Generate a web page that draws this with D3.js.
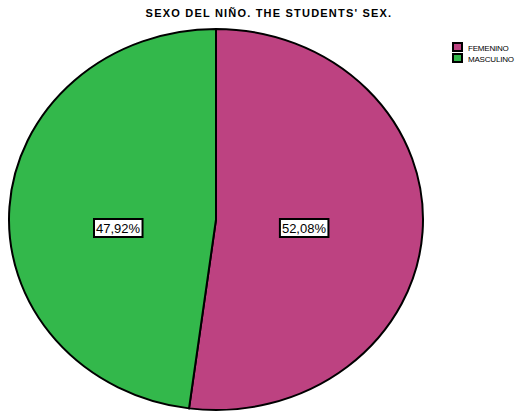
<!DOCTYPE html>
<html>
<head>
<meta charset="utf-8">
<script src="https://cdn.jsdelivr.net/npm/d3@7"></script>
<style>
  body { margin: 0; background: #fff; }
  svg { display: block; }
</style>
</head>
<body>
<div id="chart"></div>
<script>
const categories = ['FEMENINO', 'MASCULINO'];
const values = [52.08, 47.92];
const colors = ['#BD4281', '#33B84B'];
const title = "SEXO DEL NIÑO. THE STUDENTS' SEX.";

const width = 526;
const height = 412;

const cx = 216, cy = 219.5;
const rx = 207, ry = 190.5;
const r = 100;

const svg = d3.select('#chart')
  .append('svg')
  .attr('width', width)
  .attr('height', height);

svg.append('text')
  .attr('x', 269)
  .attr('y', 17)
  .attr('text-anchor', 'middle')
  .style('font-family', 'Liberation Sans, Arial, sans-serif')
  .style('font-weight', 'bold')
  .style('font-size', '11px')
  .style('letter-spacing', '1.2px')
  .text(title);

const pie = d3.pie().sort(null).value(d => d);
const arcs = pie(values);
const arc = d3.arc().innerRadius(0).outerRadius(r);
const labelArc = d3.arc().innerRadius(r * 0.45).outerRadius(r * 0.45);

const g = svg.append('g')
  .attr('transform', `translate(${cx}, ${cy}) scale(${rx / r}, ${ry / r})`);

g.selectAll('path')
  .data(arcs)
  .enter().append('path')
  .attr('d', arc)
  .attr('fill', (d, i) => colors[i])
  .attr('stroke', '#000')
  .attr('stroke-width', 2)
  .attr('vector-effect', 'non-scaling-stroke');

// percentage labels in boxes, kept on one row like the original
const labels = svg.append('g');
arcs.forEach((d, i) => {
  const c = labelArc.centroid(d);
  const x = cx - 5 + c[0] * rx / r;
  const y = cy + 8.5;
  const lg = labels.append('g').attr('transform', `translate(${x}, ${y})`);
  const txt = lg.append('text')
    .attr('text-anchor', 'middle')
    .attr('y', 5)
    .style('font-family', 'Liberation Sans, Arial, sans-serif')
    .style('font-size', '13px')
    .text(d3.format('.2f')(values[i]).replace('.', ',') + '%');
  const bb = txt.node().getBBox();
  lg.insert('rect', 'text')
    .attr('x', bb.x - 2)
    .attr('y', -9)
    .attr('width', bb.width + 4)
    .attr('height', 18)
    .attr('fill', '#fff')
    .attr('stroke', '#000')
    .attr('stroke-width', 2);
});

// legend
const legend = svg.append('g').attr('transform', 'translate(453, 43)');
categories.forEach((c, i) => {
  const row = legend.append('g').attr('transform', `translate(0, ${i * 11})`);
  row.append('rect')
    .attr('x', 0).attr('y', 0)
    .attr('width', 9).attr('height', 8)
    .attr('fill', colors[i])
    .attr('stroke', '#000')
    .attr('stroke-width', 2);
  row.append('text')
    .attr('x', 15).attr('y', 7.5)
    .style('font-family', 'Liberation Sans, Arial, sans-serif')
    .style('font-size', '8px')
    .style('letter-spacing', '-0.2px')
    .text(c);
});
</script>
</body>
</html>
